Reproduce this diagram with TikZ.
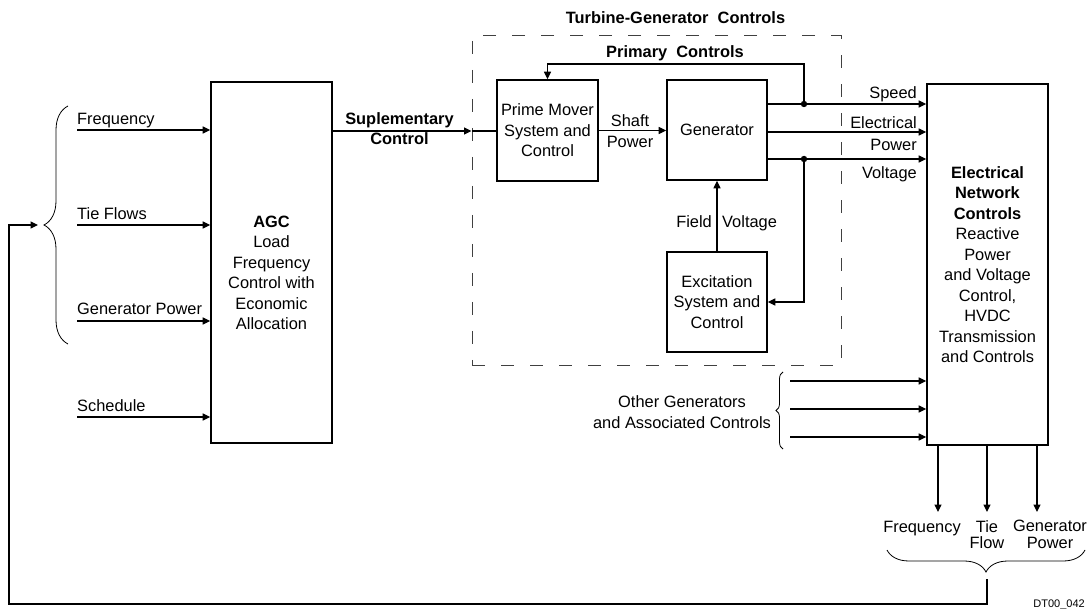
\documentclass[tikz,border=0pt]{standalone}
\usepackage{fontspec}
\setmainfont{Liberation Sans}
\usetikzlibrary{arrows.meta,decorations.pathreplacing}

\tikzset{
  box/.style={draw, line width=1.6pt, align=center, inner sep=0pt,
    font=\fontsize{16.4}{20.5}\selectfont},
  lbl/.style={inner sep=0pt, align=center, font=\fontsize{16.4}{20.5}\selectfont},
  lblb/.style={inner sep=0pt, align=center, font=\fontsize{16.4}{20}\selectfont\bfseries},
  lbls/.style={inner sep=0pt, align=center, font=\fontsize{16.4}{16.7}\selectfont},
  wire/.style={line width=1.1pt},
  arr/.style={line width=1.1pt, -{Triangle[length=7.5pt,width=7pt]}},
  brc/.style={line width=0.8pt, decorate, decoration={brace, amplitude=#1}},
}

\begin{document}
\begin{tikzpicture}[x=1pt, y=-1pt]
  \useasboundingbox (0,0) rectangle (1087,609);

  % blocks
  \node[box, minimum width=121, minimum height=361] (agc) at (271.5,262.5) {};
  \node[lbl] (agct) at (271.5,273) {\textbf{AGC}\\Load\\Frequency\\Control with\\Economic\\Allocation};
  \node[draw, line width=1pt, black!75, dash pattern=on 13pt off 16pt,
    minimum width=369, minimum height=330] (tgc) at (656.5,201) {};
  \node[box, minimum width=101, minimum height=101] (pm) at (547.5,130.5) {Prime Mover\\System and\\Control};
  \node[box, minimum width=100, minimum height=100] (gen) at (717,130) {Generator};
  \node[box, minimum width=100, minimum height=100] (exc) at (717,302) {Excitation\\System and\\Control};
  \node[box, minimum width=121, minimum height=361] (enc) at (987.5,264.5)
    {\textbf{Electrical}\\\textbf{Network}\\\textbf{Controls}\\Reactive\\Power\\and Voltage\\Control,\\HVDC\\Transmission\\and Controls};

  % titles
  \node[lblb, anchor=base] (tgct) at (675.5,24) {Turbine-Generator\ \ Controls};
  \node[lblb, anchor=base] (pct) at (675,58) {Primary\ \ Controls};

  % inputs to AGC
  \coordinate (fq) at (77,130);
  \coordinate (tf) at (77,225);
  \coordinate (gp) at (77,321);
  \coordinate (sc) at (77,417);
  \node[lbl, anchor=base west] (fql) at (77,125) {Frequency};
  \node[lbl, anchor=base west] (tfl) at (77,219.5) {Tie Flows};
  \node[lbl, anchor=base west] (gpl) at (77,315) {Generator Power};
  \node[lbl, anchor=base west] (scl) at (77,412) {Schedule};
  \draw[arr] (fq) -- (fq -| agc.west);
  \draw[arr] (tf) -- (tf -| agc.west);
  \draw[arr] (gp) -- (gp -| agc.west);
  \draw[arr] (sc) -- (sc -| agc.west);
  \draw[brc=24] (68,344) -- (68,106);

  % supplementary control
  \coordinate (su) at (332,131);
  \draw[arr] (agc.east |- su) -- (tgc.west |- su);
  \draw[wire] (tgc.west |- su) -- (pm.west |- su);
  \node[lblb] (sul) at (399.5,129) {Suplementary\\Control};

  % shaft power
  \draw[arr] (pm.east) -- (pm.east -| gen.west);
  \node[lbl] (shl) at (630,131) {Shaft\\Power};

  % generator outputs
  \coordinate (spd) at (804,104);
  \coordinate (ep) at (804,132);
  \coordinate (vd) at (804,159);
  \draw[arr] (gen.east |- spd) -- (enc.west |- spd);
  \draw[arr] (gen.east |- ep) -- (enc.west |- ep);
  \draw[arr] (gen.east |- vd) -- (enc.west |- vd);
  \fill (spd) circle[radius=3.2];
  \fill (vd) circle[radius=3.2];
  \node[lbl, anchor=base east] (spl) at (917,98.5) {Speed};
  \node[lbl, anchor=base east] (epl1) at (917,129) {Electrical};
  \node[lbl, anchor=base east] (epl2) at (917,151) {Power};
  \node[lbl, anchor=base east] (vl) at (917,179) {Voltage};

  % primary feedback
  \coordinate (pc) at (804,64);
  \draw[arr] (spd) -- (pc) -| (pm.north);
  \draw[arr] (vd) |- (exc.east);

  % field voltage
  \draw[arr] (exc.north) -- (gen.south);
  \node[lbl, anchor=base east] (fvl1) at (712,228) {Field};
  \node[lbl, anchor=base west] (fvl2) at (722,228) {Voltage};

  % other generators
  \coordinate (og1) at (790,381);
  \coordinate (og2) at (790,409);
  \coordinate (og3) at (790,437);
  \draw[arr] (og1) -- (og1 -| enc.west);
  \draw[arr] (og2) -- (og2 -| enc.west);
  \draw[arr] (og3) -- (og3 -| enc.west);
  \draw[brc=7] (783,449) -- (783,372);
  \node[lbl] (ogl) at (682,412) {Other Generators\\and Associated Controls};

  % network outputs
  \coordinate (fqo) at (938,512);
  \coordinate (tfo) at (987,512);
  \coordinate (gpo) at (1037,512);
  \draw[arr] (enc.south -| fqo) -- (fqo);
  \draw[arr] (enc.south -| tfo) -- (tfo);
  \draw[arr] (enc.south -| gpo) -- (gpo);
  \node[lbls, anchor=base] (fqol) at (922,532) {Frequency};
  \node[lbls, anchor=north] (tfol) at (987,520) {Tie\\Flow};
  \node[lbls, anchor=north] (gpol) at (1050,520) {Generator\\Power};
  \draw[brc=22] (1085,550) -- (887,550);

  % feedback to AGC
  \coordinate (bbt) at (987,579);
  \coordinate (fbc) at (9,604);
  \coordinate (lbt) at (38,225);
  \draw[arr] (bbt) |- (fbc) |- (lbt);

  \node[inner sep=0pt, font=\fontsize{11}{13}\selectfont, anchor=base east] (dt) at (1085,607) {DT00\_042};
\end{tikzpicture}
\end{document}
